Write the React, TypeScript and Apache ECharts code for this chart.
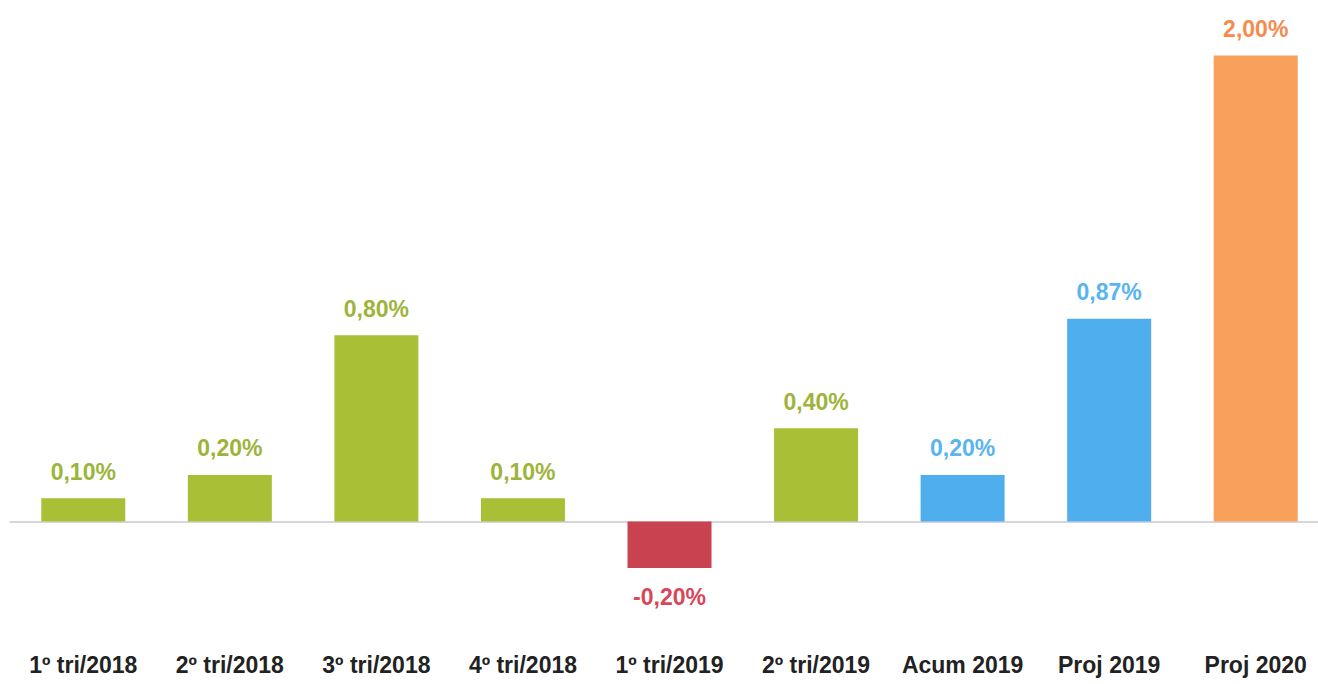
import React, { useEffect, useRef } from "react";
import * as echarts from "echarts";

const categories = ["1º tri/2018", "2º tri/2018", "3º tri/2018", "4º tri/2018", "1º tri/2019", "2º tri/2019", "Acum 2019", "Proj 2019", "Proj 2020"];
const values = [0.1, 0.2, 0.8, 0.1, -0.2, 0.4, 0.2, 0.87, 2.0];
const barColors = ["#A9BF35", "#A9BF35", "#A9BF35", "#A9BF35", "#C8434F", "#A9BF35", "#4FAEEE", "#4FAEEE", "#F9A15A"];
const labelColors = ["#9DB43A", "#9DB43A", "#9DB43A", "#9DB43A", "#D94658", "#9DB43A", "#59B4F0", "#59B4F0", "#F58B4E"];

export default function App() {
  const ref = useRef<HTMLDivElement>(null);
  useEffect(() => {
    if (!ref.current) return;
    const chart = echarts.init(ref.current, undefined, { renderer: "svg" });
    const fmt = (v: number) => v.toFixed(2).replace(".", ",") + "%";
    chart.setOption({
      animation: false,
      backgroundColor: "#ffffff",
      grid: { left: 10, width: 1319, top: 9, height: 629, containLabel: false },
      xAxis: [
        {
          type: "category",
          data: categories,
          axisLine: { show: true, onZero: true, lineStyle: { color: "#c9c9d2", width: 1.5 } },
          axisTick: { show: false },
          axisLabel: { show: false },
        },
        {
          type: "category",
          data: categories,
          position: "bottom",
          axisLine: { show: false, onZero: false },
          axisTick: { show: false },
          axisLabel: {
            show: true,
            margin: 15,
            color: "#222222",
            fontSize: 23,
            fontWeight: "bold",
            fontFamily: "Liberation Sans, Arial, sans-serif",
            interval: 0,
          },
        },
      ],
      yAxis: {
        type: "value",
        min: -0.5,
        max: 2.2,
        show: false,
        splitLine: { show: false },
      },
      series: [
        {
          type: "bar",
          xAxisIndex: 0,
          barWidth: 84,
          data: values.map((v, i) => ({
            value: v,
            itemStyle: { color: barColors[i] },
            label: {
              show: true,
              position: v < 0 ? "bottom" : "top",
              distance: v < 0 ? 17 : 15,
              color: labelColors[i],
              fontSize: 23,
              fontWeight: "bold",
              fontFamily: "Liberation Sans, Arial, sans-serif",
              formatter: () => fmt(v),
            },
          })),
        },
      ],
    });
    return () => chart.dispose();
  }, []);
  return (
    <div style={{ position: "absolute", left: 0, top: 0, width: 1318, height: 684, overflow: "hidden", background: "#fff" }}>
      <div ref={ref} style={{ position: "absolute", left: 0, top: 0, width: 1340, height: 684 }} />
    </div>
  );
}
